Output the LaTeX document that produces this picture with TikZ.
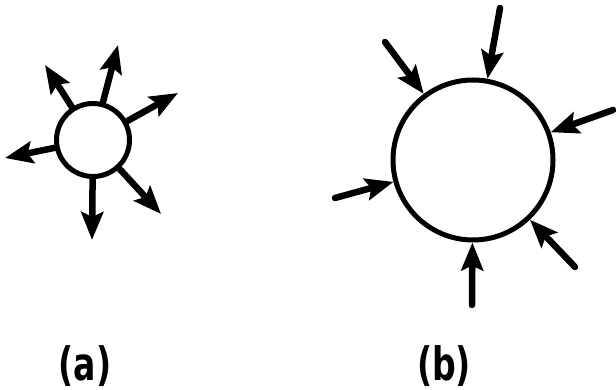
\documentclass[tikz,border=0pt]{standalone}
\usepackage{fontspec}
\newfontfamily\lblfont{DejaVu Sans}
\usetikzlibrary{arrows.meta}
\tikzset{
  ball/.style={draw,circle,inner sep=0pt,line width=5pt},
  push/.style={-{Stealth[length=28pt,width=22pt,inset=5pt]}},
  lbl/.style={font=\lblfont\bfseries\fontsize{46}{46}\selectfont,xscale=0.72,inner sep=0pt}
}
\begin{document}
\begin{tikzpicture}[x=1pt,y=1pt,line width=6.5pt,line cap=round]
	\useasboundingbox (0,0) rectangle (616,390);
	\node[ball,minimum size=73pt] (ca) at (93,250) {};
	\node[ball,minimum size=160pt] (cb) at (473,230) {};
	\coordinate (a1) at (45,325);
	\coordinate (a2) at (118,345);
	\coordinate (a3) at (178,297);
	\coordinate (a4) at (5,232);
	\coordinate (a5) at (92,150);
	\coordinate (a6) at (161,176);
	\coordinate (b1) at (385,348);
	\coordinate (b2) at (500,382);
	\coordinate (b3) at (613,280);
	\coordinate (b4) at (335,192);
	\coordinate (b5) at (575,123);
	\coordinate (b6) at (472,85);
	\foreach \t in {a1,a2,a3,a4,a5,a6} \draw[push] (ca) -- (\t);
	\foreach \t in {b1,b2,b3,b4,b5,b6} \draw[push] (\t) -- (cb);
	\node[lbl] (la) at (85,24) {(a)};
	\node[lbl] (lb) at (444,24) {(b)};
\end{tikzpicture}
\end{document}
